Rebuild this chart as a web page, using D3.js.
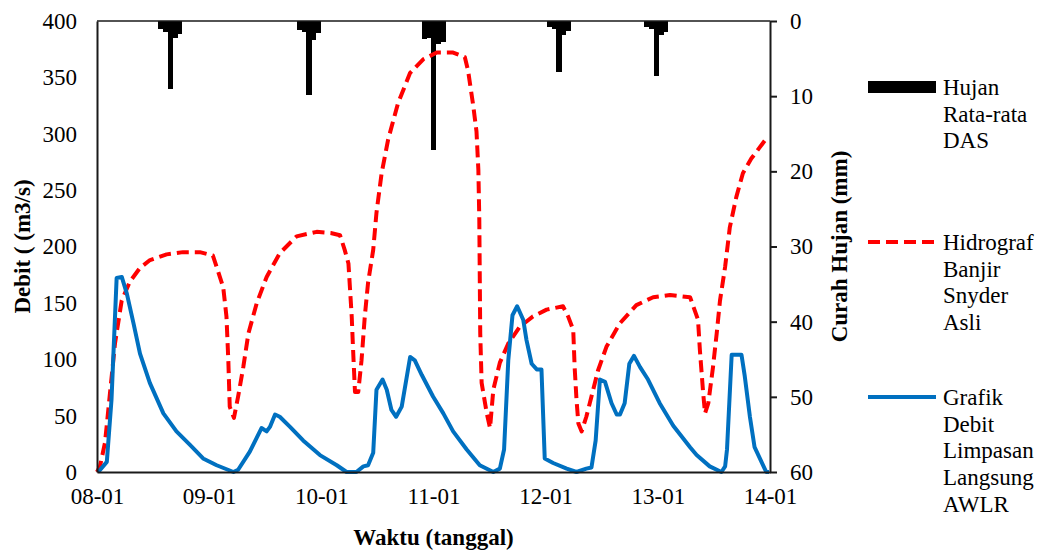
<!DOCTYPE html>
<html>
<head>
<meta charset="utf-8">
<script src="https://cdn.jsdelivr.net/npm/d3@7"></script>
<style>
  html, body { margin: 0; padding: 0; background: #fff; }
  svg { display: block; font-family: "Liberation Serif", "Times New Roman", serif; }
</style>
</head>
<body>
<svg id="chart" width="1044" height="551"></svg>
<script>
// ---------- DATA ----------
// time in hours since 08-01 00:00
const xTickHours = [0, 24, 48, 72, 96, 120, 144];
const xTickLabels = ["08-01", "09-01", "10-01", "11-01", "12-01", "13-01", "14-01"];
const leftTicks = [0, 50, 100, 150, 200, 250, 300, 350, 400];
const rightTicks = [0, 10, 20, 30, 40, 50, 60];

// Hujan rata-rata DAS (mm), hourly bars
const rainHours = [13.6, 14.6, 15.6, 16.6, 17.6,
                   43.3, 44.3, 45.3, 46.3, 47.3,
                   70.0, 71.0, 72.0, 73.0, 74.0,
                   96.8, 97.8, 98.8, 99.8, 100.8,
                   117.6, 118.6, 119.6, 120.6, 121.6];
const rainMm = [1.0, 1.4, 9.1, 2.3, 1.7,
                1.2, 1.5, 9.9, 2.5, 1.6,
                2.4, 2.2, 17.2, 3.1, 2.8,
                0.8, 1.0, 6.8, 1.8, 1.3,
                0.8, 1.0, 7.3, 1.9, 1.4];

// Hidrograf Banjir Snyder Asli (m3/s)
const snyderHours = [0, 0.64, 1.71, 2.78, 3.85, 5.28, 7.06, 9.2, 11.34, 14.9, 18.4, 22.0, 24.8, 27.0, 27.7, 28.1, 28.4, 29.3,
  30.2, 31.3, 32.4, 34.2, 36.3, 39.1, 42.7, 47.0, 50.0, 52.0, 53.0, 53.8, 54.5, 54.8, 55.2, 55.9, 56.6, 57.3, 58.0, 59.1,
  59.8, 60.9, 62.3, 64.4, 67.0, 69.8, 72.7, 76.2, 78.7, 79.4, 80.5, 81.2, 81.6, 81.8, 82.0, 82.3, 83.4, 84.1, 84.8, 86.2,
  88.0, 90.5, 93.3, 96.2, 99.7, 100.8, 101.9, 102.2, 102.6, 103.0, 103.7, 104.7, 105.8, 107.2, 109.0, 111.9, 115.4, 119.0,
  122.6, 126.9, 128.6, 129.0, 129.7, 130.1, 130.8, 131.8, 132.6, 133.3, 134.4, 135.4, 136.8, 138.2, 140.0, 142.9, 143.5];
const snyderDebit = [0, 5, 26, 70, 114, 152, 169, 181, 188, 193, 195, 195, 192, 164, 138, 99, 58, 48,
  67, 93, 123, 150, 173, 194, 209, 213, 212, 210, 197, 185, 138, 108, 71, 71, 99, 138, 168, 197,
  230, 265, 295, 327, 354, 366, 372, 372, 368, 356, 325, 302, 268, 224, 123, 79, 52, 39, 73, 97,
  114, 129, 138, 144, 147, 138, 126, 93, 64, 43, 36, 49, 67, 90, 111, 132, 148, 155,
  157, 155, 135, 108, 70, 52, 61, 93, 123, 152, 182, 217, 244, 265, 278, 294, 294];

// Grafik Debit Limpasan Langsung AWLR (m3/s)
const awlrHours = [0.28, 2.1, 3.1, 4.2, 5.3, 6.4, 7.8, 9.2, 11.3, 14.2, 17.0, 19.9, 22.7, 25.6, 29.2, 30.2, 32.7, 35.2,
  36.3, 37.0, 38.1, 39.1, 41.3, 44.1, 47.7, 51.3, 53.4, 55.5, 57.0, 58.0, 59.1, 59.8, 61.1, 62.0, 63.0, 64.0, 65.2, 67.0,
  68.0, 69.5, 71.9, 74.1, 76.2, 79.1, 81.9, 84.8, 86.2, 87.1, 88.0, 88.9, 89.9, 91.2, 91.9, 93.0, 94.1, 95.1, 95.8, 97.6,
  100.5, 102.6, 104.7, 105.8, 106.7, 107.6, 108.7, 110.1, 111.2, 111.9, 112.9, 113.9, 114.9, 116.2, 117.9, 120.4, 123.3,
  126.9, 128.3, 131.1, 133.6, 134.4, 134.8, 135.8, 137.9, 138.6, 139.7, 140.7, 143.2, 143.8];
const awlrDebit = [0, 9, 64, 172, 173, 158, 132, 105, 79, 52, 36, 24, 12, 6, 0, 2, 18, 39,
  36, 40, 51, 49, 40, 28, 15, 6, 0, 0, 5, 6, 17, 73, 82, 73, 55, 49, 58, 102,
  99, 86, 67, 52, 36, 20, 6, 0, 3, 20, 99, 139, 147, 135, 117, 96, 91, 91, 12, 8,
  3, 0, 3, 4, 28, 82, 80, 61, 51, 51, 61, 96, 103, 93, 82, 61, 41,
  22, 15, 5, 0, 5, 20, 104, 104, 85, 49, 22, 0, 0];

const legendItems = [
  { type: "rect", lines: ["Hujan", "Rata-rata", "DAS"] },
  { type: "dash", lines: ["Hidrograf", "Banjir", "Snyder", "Asli"] },
  { type: "line", lines: ["Grafik", "Debit", "Limpasan", "Langsung", "AWLR"] }
];

// ---------- LAYOUT ----------
const L = 97, R = 770, T = 21, B = 472;
const FS = 23;
const svg = d3.select("#chart");

const x = d3.scaleLinear().domain([0, 144]).range([L, R]);
const yL = d3.scaleLinear().domain([0, 400]).range([B, T]);
const yR = d3.scaleLinear().domain([0, 60]).range([T, B]);

// rain bars
const bw = x(1) - x(0);
svg.append("g").attr("shape-rendering", "crispEdges").selectAll("rect")
  .data(rainHours.map((h, i) => ({ h, v: rainMm[i] })))
  .join("rect")
  .attr("x", d => x(d.h) - bw / 2)
  .attr("width", bw + 0.6)
  .attr("y", yR(0))
  .attr("height", d => yR(d.v) - yR(0))
  .attr("fill", "#000");

// lines
const snyder = snyderHours.map((h, i) => [h, snyderDebit[i]]);
const awlr = awlrHours.map((h, i) => [h, awlrDebit[i]]);
const line = d3.line().x(d => x(d[0])).y(d => yL(d[1]));

svg.append("path").datum(snyder)
  .attr("d", line)
  .attr("fill", "none")
  .attr("stroke", "#FF0000")
  .attr("stroke-width", 4)
  .attr("stroke-dasharray", "12,6")
  .attr("stroke-linejoin", "round");

svg.append("path").datum(awlr)
  .attr("d", line)
  .attr("fill", "none")
  .attr("stroke", "#0070C0")
  .attr("stroke-width", 4)
  .attr("stroke-linejoin", "round");

// frame
const frameColor = "#1a1a1a";
svg.append("line").attr("x1", L).attr("x2", R).attr("y1", T).attr("y2", T)
  .attr("stroke", frameColor).attr("stroke-width", 1.5);

// axes
const gL = svg.append("g").attr("transform", `translate(${L},0)`)
  .call(d3.axisLeft(yL).tickValues(leftTicks).tickSize(0).tickPadding(20).tickFormat(d3.format("d")));
const gR = svg.append("g").attr("transform", `translate(${R},0)`)
  .call(d3.axisRight(yR).tickValues(rightTicks).tickSize(7).tickSizeOuter(0).tickPadding(13).tickFormat(d3.format("d")));
const gB = svg.append("g").attr("transform", `translate(0,${B})`)
  .call(d3.axisBottom(x).tickValues(xTickHours).tickSize(0).tickPadding(16)
    .tickFormat((d, i) => xTickLabels[i]));

[gL, gR, gB].forEach(g => {
  g.selectAll(".domain").attr("stroke", frameColor).attr("stroke-width", 2);
  g.selectAll(".tick line").attr("stroke", frameColor).attr("stroke-width", 2);
  g.selectAll(".tick text").attr("fill", "#000")
    .style("font-family", "'Liberation Serif', 'Times New Roman', serif")
    .style("font-size", FS + "px");
});

// axis titles
svg.append("text")
  .attr("transform", `translate(30,${(T + B) / 2}) rotate(-90)`)
  .attr("text-anchor", "middle")
  .attr("font-weight", "bold").attr("font-size", FS)
  .text("Debit ( (m3/s)");

svg.append("text")
  .attr("transform", `translate(847,${(T + B) / 2}) rotate(-90)`)
  .attr("text-anchor", "middle")
  .attr("font-weight", "bold").attr("font-size", FS)
  .text("Curah Hujan (mm)");

svg.append("text")
  .attr("x", (L + R) / 2).attr("y", 545)
  .attr("text-anchor", "middle")
  .attr("font-weight", "bold").attr("font-size", FS)
  .text("Waktu (tanggal)");

// legend
const legendY = [87, 242, 397];
const lineH = 26.7;
const lg = svg.append("g");
legendItems.forEach((item, i) => {
  const cy = legendY[i];
  if (item.type === "rect") {
    lg.append("rect").attr("x", 868).attr("y", cy - 6).attr("width", 68).attr("height", 12).attr("fill", "#000");
  } else if (item.type === "dash") {
    lg.append("line").attr("x1", 868).attr("x2", 936).attr("y1", cy).attr("y2", cy)
      .attr("stroke", "#FF0000").attr("stroke-width", 4).attr("stroke-dasharray", "12,6");
  } else {
    lg.append("line").attr("x1", 868).attr("x2", 936).attr("y1", cy).attr("y2", cy)
      .attr("stroke", "#0070C0").attr("stroke-width", 4);
  }
  item.lines.forEach((t, j) => {
    lg.append("text").attr("x", 943).attr("y", cy + 8 + j * lineH)
      .attr("font-size", FS).attr("fill", "#000").text(t);
  });
});
</script>
</body>
</html>
